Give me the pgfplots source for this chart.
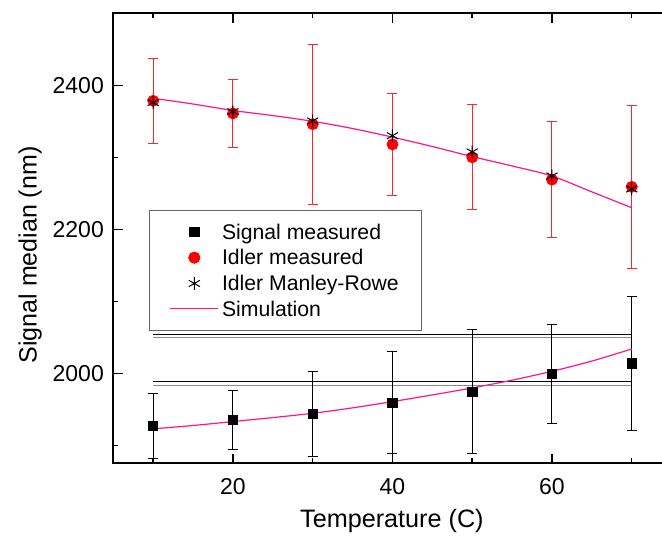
\documentclass[border=0pt]{standalone}
\usepackage{pgfplots}
\pgfplotsset{compat=1.18}
\usepackage{fontspec}
\setmainfont{Liberation Sans}
\definecolor{simpink}{RGB}{255,20,140}
\begin{document}
\begin{tikzpicture}
\begin{axis}[
  scale only axis,
  width=279.15pt, height=225pt,
  xmin=5, xmax=75, ymin=1875, ymax=2500,
  xtick={20,40,60}, xticklabels={20,40,60}, minor xtick={10,30,50,70},
  ytick={2000,2200,2400}, yticklabels={2000,2200,2400}, minor ytick={1900,2100,2300,2500},
  tick align=inside,
  major tick length=4.7pt, minor tick length=2.5pt,
  every tick/.style={black, line width=0.75pt},
  axis line style={line width=1pt},
  tick label style={font=\fontsize{11.5}{13}\selectfont},
  yticklabel style={xshift=-1.2pt},
  xticklabel style={yshift=-3.9pt},
  xlabel={Temperature (C)}, ylabel={Signal median (nm)},
  every axis x label/.style={at={(axis description cs:0.499,-0.128)},anchor=center,font=\fontsize{12.6}{15}\selectfont},
  every axis y label/.style={at={(axis description cs:-0.149,0.463)},anchor=center,rotate=90,font=\fontsize{12.5}{15}\selectfont},
  legend cell align=left,
  legend image code/.code={\draw[mark repeat=2,mark phase=2,#1] plot coordinates {(0pt,0pt) (12pt,0pt) (24pt,0pt)};},
  legend style={at={(axis description cs:0.064,0.563)}, anchor=north west,
    draw=black!60, line width=0.6pt, fill=white,
    inner xsep=10pt, inner ysep=4.2pt, row sep=0pt, column sep=0pt,
    font=\fontsize{10.6}{12}\selectfont,
    nodes={inner xsep=1.5pt, inner ysep=1.5pt, text height=8.6pt, text depth=1.3pt}},
]
% horizontal reference lines
\addplot[forget plot, black, line width=0.5pt] coordinates {(10,2053.3) (70,2053.3)};
\addplot[forget plot, black!45, line width=0.5pt] coordinates {(10,2049.9) (70,2049.9)};
\addplot[forget plot, black, line width=0.5pt] coordinates {(10,1988) (70,1988)};
\addplot[forget plot, black!45, line width=0.5pt] coordinates {(10,1982.5) (70,1982.5)};

% Signal measured
\addplot[only marks, mark=square*, mark size=2.35pt, black,
  error bars/.cd, y dir=both, y explicit,
  error bar style={line width=0.5pt, black},
  error mark options={line width=0.5pt, mark size=2.5pt, black, rotate=90}]
  coordinates {
  (10,1927) +- (0,45.5)
  (20,1935) +- (0,41)
  (30,1943.7) +- (0,59)
  (40,1959) +- (0,71)
  (50,1974.5) +- (0,86)
  (60,1999) +- (0,69)
  (70,2014) +- (0,93)
  };
\addlegendentry{Signal measured}

% Idler measured
\addplot[only marks, mark=*, mark size=2.75pt, red,
  error bars/.cd, y dir=both, y explicit,
  error bar style={line width=0.5pt, red!85},
  error mark options={line width=0.5pt, mark size=2.5pt, red!85, rotate=90}]
  coordinates {
  (10,2378.5) +- (0,59)
  (20,2361) +- (0,47)
  (30,2346) +- (0,111)
  (40,2318) +- (0,71)
  (50,2300) +- (0,73)
  (60,2269) +- (0,81)
  (70,2259) +- (0,113)
  };
\addlegendentry{Idler measured}

% Idler Manley-Rowe
\addplot[only marks, mark=asterisk, mark size=3.2pt, black, mark options={line width=0.5pt}]
  coordinates {
  (10,2376) (20,2363.4) (30,2350.5) (40,2330) (50,2307.5) (60,2274.2) (70,2256)
  };
\addlegendentry{Idler Manley-Rowe}

% Simulation
\addplot[simpink, line width=0.6pt, smooth,
  legend image code/.code={\draw[simpink, line width=0.7pt] (0pt,0.4pt) -- (24pt,0.4pt);}]
  coordinates {
  (10,2382) (15,2374) (20,2365) (25,2358) (30,2350) (35,2340) (40,2328)
  (45,2315) (50,2301) (55,2288) (60,2274) (65,2252) (70,2230)
  };
\addlegendentry{Simulation}
\addplot[forget plot, simpink, line width=0.6pt, smooth] coordinates {
  (10,1922.9) (15,1927.5) (20,1933) (25,1938.5) (30,1944.5) (35,1952) (40,1960.7)
  (45,1970) (50,1979.7) (55,1990.5) (60,2002.8) (65,2017) (70,2033.8)
  };
\end{axis}
\pgfresetboundingbox
\useasboundingbox (-56.65pt,-37.35pt) rectangle (274.35pt,231.65pt);
\end{tikzpicture}
\end{document}
